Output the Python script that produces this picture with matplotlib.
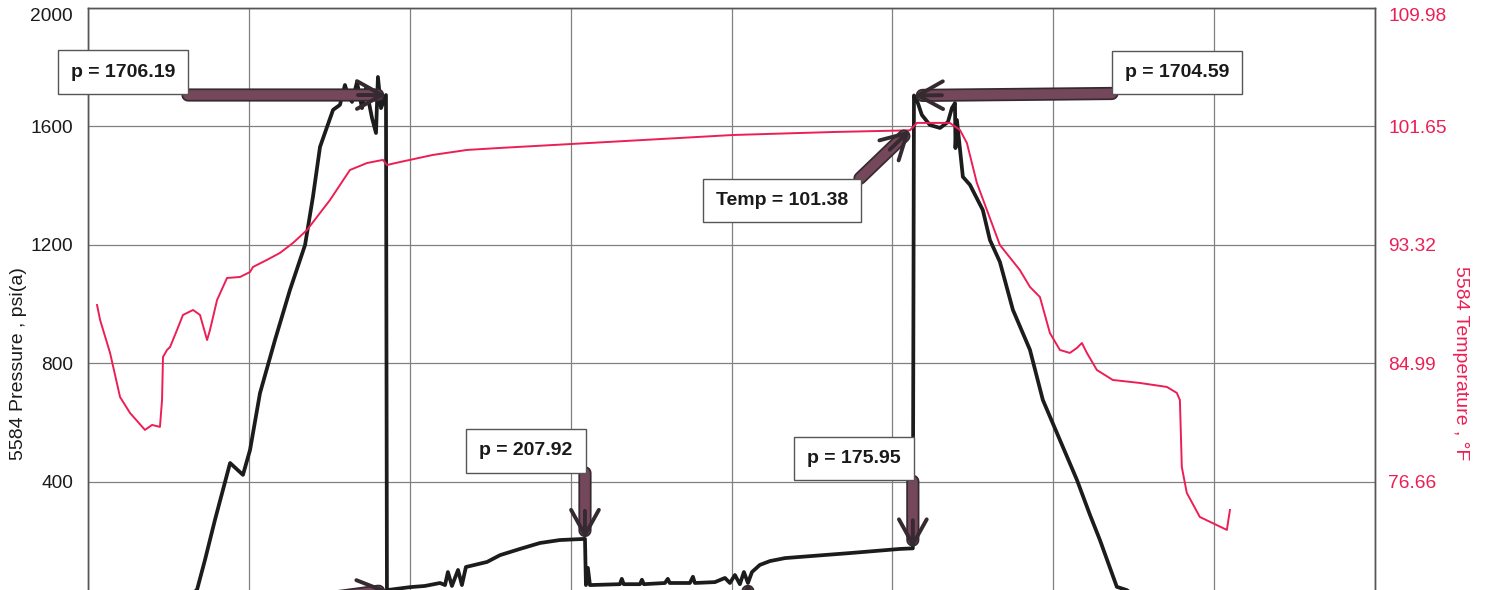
import matplotlib.pyplot as plt
from matplotlib import patheffects as pe

# gauge 5584 - elapsed time (hr) vs pressure (psia)
t_press = [0.06, 0.62, 0.677, 0.727, 0.789, 0.883, 0.963, 1.007, 1.069, 1.162, 1.255, 1.349, 1.398, 1.442, 1.523,
           1.566, 1.597, 1.616, 1.641, 1.672, 1.703, 1.728, 1.765, 1.790, 1.802, 1.821, 1.852,
           1.858, 2.001, 2.094, 2.188, 2.219, 2.237, 2.262, 2.300, 2.324, 2.349, 2.480, 2.561, 2.685, 2.809, 2.933, 3.089,
           3.095, 3.107, 3.120, 3.306, 3.318, 3.330, 3.431, 3.443, 3.455, 3.586, 3.604, 3.616, 3.741, 3.760, 3.772,
           3.897, 3.959, 3.990, 4.021, 4.052, 4.077, 4.102,
           4.127, 4.176, 4.239, 4.332, 4.425, 4.736, 5.047, 5.127,
           5.134, 5.152, 5.183, 5.233, 5.296, 5.345, 5.370, 5.389, 5.392, 5.401, 5.438, 5.482, 5.562, 5.606, 5.668,
           5.749, 5.855, 5.935, 6.041, 6.147, 6.228, 6.290, 6.395, 6.457, 6.507, 7.10]
press = [14, 15, 35, 137, 272, 464, 424, 508, 700, 879, 1048, 1200, 1362, 1531, 1656,
         1673, 1740, 1706, 1683, 1750, 1662, 1730, 1629, 1578, 1767, 1662, 1706.19,
         35, 45, 49, 59, 52, 96, 49, 103, 52, 113, 130, 153, 174, 194, 204, 207.92,
         52, 110, 52, 55, 73, 55, 55, 70, 55, 59, 73, 59, 59, 80, 59,
         62, 76, 59, 86, 55, 96, 59,
         96, 120, 133, 143, 147, 160, 174, 175.95,
         1704.59, 1689, 1639, 1605, 1595, 1615, 1662, 1679, 1527, 1622, 1430, 1403, 1318, 1217, 1143,
         981, 846, 677, 542, 407, 289, 204, 46, 35, 14, 14]

# gauge 5584 - temperature (deg F)
t_temp = [0.056, 0.075, 0.137, 0.199, 0.261, 0.354, 0.398, 0.447, 0.460, 0.466, 0.491, 0.510, 0.553, 0.590,
          0.653, 0.696, 0.740, 0.758, 0.802, 0.864, 0.945, 1.007, 1.025, 1.112, 1.193, 1.274, 1.361, 1.442,
          1.504, 1.628, 1.734, 1.833, 1.858, 1.939, 2.144, 2.356, 2.561, 3.120, 4.009, 4.630, 5.109, 5.152,
          5.357, 5.420, 5.463, 5.525, 5.668, 5.792, 5.855, 5.917, 5.979, 6.041, 6.103, 6.147, 6.178, 6.209,
          6.271, 6.370, 6.538, 6.706, 6.768, 6.787, 6.799, 6.830, 6.911, 7.079, 7.098]
temp = [89.10, 88.05, 85.73, 82.63, 81.51, 80.32, 80.67, 80.53, 82.42, 85.45, 85.94, 86.15, 87.34, 88.40,
        88.75, 88.40, 86.64, 87.34, 89.45, 91.00, 91.07, 91.42, 91.77, 92.27, 92.76, 93.46, 94.37, 95.57,
        96.48, 98.59, 99.08, 99.30, 98.94, 99.15, 99.65, 100.00, 100.14, 100.49, 101.05, 101.26, 101.38, 101.90,
        101.90, 101.40, 100.49, 97.68, 93.32, 91.56, 90.37, 89.66, 87.13, 85.94, 85.73, 86.08, 86.43, 85.73,
        84.53, 83.83, 83.62, 83.34, 82.92, 82.42, 77.71, 75.89, 74.20, 73.29, 74.69]

hours = [0, 1, 2, 3, 4, 5, 6, 7, 8]
p_ticks = [-400, 0, 400, 800, 1200, 1600, 2000]
t_ticks = [60.00, 68.33, 76.66, 84.99, 93.32, 101.65, 109.98]

plt.rcParams['font.family'] = ['Liberation Sans', 'DejaVu Sans']

RED = '#ec1f55'
SHAFT = '#74475a'
EDGE = '#352a30'

fig = plt.figure(figsize=(14.87, 5.90), dpi=100)
ax = fig.add_axes([0.0592, -0.2186, 0.8655, 1.2051])
ax2 = ax.twinx()

ax.plot(t_press, press, color='#1c1c1c', lw=2.7)
ax2.plot(t_temp, temp, color=RED, lw=1.4)

ax.set_xlim(hours[0], hours[-1])
ax.set_ylim(p_ticks[0], p_ticks[-1])
ax.set_xticks(hours)
ax.set_yticks(p_ticks)
ax.grid(True, color='#808080', lw=0.9)
ax.tick_params(length=0, labelsize=13.8, pad=10.8, labelbottom=False, colors='#1a1a1a')
ax.set_ylabel('5584 Pressure , psi(a)', fontsize=14, color='#1a1a1a', labelpad=2)

ax2.set_ylim(t_ticks[0], t_ticks[-1])
ax2.set_yticks(t_ticks)
ax2.set_yticklabels(['%.2f' % v for v in t_ticks])
ax2.tick_params(length=0, labelsize=13.8, pad=9.4, colors=RED)
ax2.set_ylabel('5584 Temperature , °F', fontsize=14, color=RED, rotation=270, va='bottom', labelpad=4)

# keep the top labels inside the frame
ax.get_yticklabels()[-1].set_va('top')
ax2.get_yticklabels()[-1].set_va('top')

for a in (ax, ax2):
    for s in a.spines.values():
        s.set_color('#555555')
        s.set_linewidth(1.0)


def arrow(tip, coords, tail):
    # thick mauve shaft with a dark rim, open dark head at the tip
    ax2.annotate('', xy=tip, xycoords=coords, xytext=tail, textcoords='offset pixels',
                 arrowprops=dict(arrowstyle='-', lw=7, color=SHAFT, shrinkA=0, shrinkB=6,
                                 path_effects=[pe.withStroke(linewidth=9.5, foreground=EDGE)]))
    dx, dy = tail
    d = (dx * dx + dy * dy) ** 0.5
    ax2.annotate('', xy=tip, xycoords=coords, xytext=(dx * 28 / d, dy * 28 / d), textcoords='offset pixels',
                 arrowprops=dict(arrowstyle='->,head_length=1.8,head_width=1.0', lw=2.8, color=EDGE,
                                 shrinkA=0, shrinkB=0))


def label_box(text, tip, coords, where):
    ax2.annotate(text, xy=tip, xycoords=coords, xytext=where, textcoords='offset pixels',
                 ha='center', va='center', fontsize=14, fontweight='bold', color='#1a1a1a',
                 bbox=dict(boxstyle='square,pad=0.68', fc='white', ec='#555555', lw=1.0))


# pressure call-outs
for val, tail, box in [(1706.19, (-198, 0), (-263, 23)),
                       (1704.59, (198, 2), (263, 23)),
                       (207.92, (0, 66), (-59, 88)),
                       (175.95, (0, 67), (-59, 90))]:
    i = press.index(val)
    tip = (t_press[i], press[i])
    arrow(tip, ax.transData, tail)
    label_box('p = %.2f' % val, tip, ax.transData, box)

# temperature call-out
j = temp.index(101.38)
arrow((t_temp[j], temp[j]), ax2.transData, (-50, -48))
label_box('Temp = %.2f' % temp[j], (t_temp[j], temp[j]), ax2.transData, (-128, -70))

# lower call-outs (boxes sit below the plotted window)
arrow((t_press[27], press[27]), ax.transData, (-90, -12))
arrow((t_press[64], press[64]), ax.transData, (0, -70))

fig.savefig('out.png', dpi=100)
